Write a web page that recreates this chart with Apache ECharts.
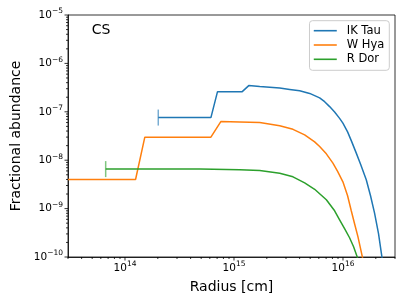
<!DOCTYPE html>
<html>
<head>
<meta charset="utf-8">
<script src="https://cdn.jsdelivr.net/npm/echarts@6/dist/echarts.min.js"></script>
<style>html,body{margin:0;padding:0;background:#fff}#c{width:407px;height:305px}</style>
</head>
<body>
<div id="c"></div>
<script>
// ---- data ----
const ikTauR = [2.02e14, 6.14e14, 7.06e14, 1.19e15, 1.366e15, 1.723e15, 2.127e15, 2.627e15, 3.243e15, 4.005e15, 4.945e15, 6.106e15, 6.785e15, 7.54e15, 8.378e15, 9.309e15, 9.98e15, 1.102e16, 1.199e16, 1.324e16, 1.45e16, 1.635e16, 1.789e16, 1.948e16, 2.118e16, 2.271e16, 2.455e16];
const ikTauX = [7.6e-8, 7.6e-8, 2.61e-7, 2.61e-7, 3.476e-7, 3.314e-7, 3.221e-7, 3.087e-7, 2.901e-7, 2.727e-7, 2.399e-7, 1.937e-7, 1.617e-7, 1.281e-7, 9.87e-8, 7.31e-8, 5.82e-8, 3.85e-8, 2.45e-8, 1.40e-8, 8.22e-9, 3.94e-9, 1.84e-9, 8.09e-10, 3.03e-10, 1.03e-10, 3.92e-11];
const wHyaR = [3.0e13, 1.25e14, 1.52e14, 6.14e14, 7.57e14, 1.13e15, 1.723e15, 2.627e15, 3.477e15, 4.45e15, 5.495e15, 6.106e15, 7.034e15, 8.083e15, 8.924e15, 9.98e15, 1.102e16, 1.191e16, 1.277e16, 1.369e16, 1.502e16, 1.611e16];
const wHyaX = [3.99e-9, 3.99e-9, 2.99e-8, 2.99e-8, 6.28e-8, 6.13e-8, 5.99e-8, 5.17e-8, 4.34e-8, 3.34e-8, 2.39e-8, 1.915e-8, 1.354e-8, 8.70e-9, 5.90e-9, 3.58e-9, 1.84e-9, 9.02e-10, 4.87e-10, 2.66e-10, 1.03e-10, 4.97e-11];
const rDorR = [6.65e13, 4.86e14, 1.13e15, 1.723e15, 2.627e15, 3.477e15, 4.45e15, 5.495e15, 7.034e15, 8.378e15, 9.309e15, 1.034e16, 1.149e16, 1.251e16, 1.346e16, 1.419e16];
const rDorX = [6.55e-9, 6.55e-9, 6.33e-9, 6.12e-9, 5.36e-9, 4.54e-9, 3.41e-9, 2.51e-9, 1.52e-9, 9.02e-10, 5.88e-10, 3.84e-10, 2.50e-10, 1.63e-10, 1.03e-10, 6.94e-11];
const seriesNames = ['IK Tau', 'W Hya', 'R Dor'];
const xMin = 3e13, xMax = 3e16, yMin = 1e-10, yMax = 1e-5;
const xMajor = [1e14, 1e15, 1e16];
const xMinor = [3e13, 4e13, 5e13, 6e13, 7e13, 8e13, 9e13, 2e14, 3e14, 4e14, 5e14, 6e14, 7e14, 8e14, 9e14, 2e15, 3e15, 4e15, 5e15, 6e15, 7e15, 8e15, 9e15, 2e16, 3e16];
const yMajor = [1e-10, 1e-9, 1e-8, 1e-7, 1e-6, 1e-5];
const yMinor = [2e-10, 3e-10, 4e-10, 5e-10, 6e-10, 7e-10, 8e-10, 9e-10,
  2e-9, 3e-9, 4e-9, 5e-9, 6e-9, 7e-9, 8e-9, 9e-9,
  2e-8, 3e-8, 4e-8, 5e-8, 6e-8, 7e-8, 8e-8, 9e-8,
  2e-7, 3e-7, 4e-7, 5e-7, 6e-7, 7e-7, 8e-7, 9e-7,
  2e-6, 3e-6, 4e-6, 5e-6, 6e-6, 7e-6, 8e-6, 9e-6];

const colors = ['#1f77b4', '#ff7f0e', '#2ca02c'];
const FONT = 'DejaVu Sans';

function lineData(r, x, capFirst) {
  return r.map((v, i) => {
    if (i === 0 && capFirst) {
      return { value: [v, x[i]], symbol: 'rect', symbolSize: [1.5, 16], itemStyle: { opacity: 0.6 } };
    }
    return [v, x[i]];
  });
}

function powLabel(v) {
  const e = Math.log10(v);
  const r = Math.round(e);
  if (Math.abs(e - r) > 1e-6) return '';
  return '{b|10}{s|' + (r < 0 ? '\u2212' : '') + Math.abs(r) + '}';
}
const rich = {
  b: { fontSize: 10.5, fontFamily: FONT, color: '#000', lineHeight: 14 },
  s: { fontSize: 7.5, fontFamily: FONT, color: '#000', lineHeight: 14, padding: [0, 0, 7, 0] }
};

const tickData = [];
xMajor.forEach(v => tickData.push([v, yMin, 3.5, 0]));
xMinor.forEach(v => tickData.push([v, yMin, 2, 0]));
const yTickData = [];
yMajor.forEach(v => yTickData.push([xMin, v, 3.5, 1]));
yMinor.forEach(v => yTickData.push([xMin, v, 2, 1]));

function renderTick(params, api) {
  const p = api.coord([api.value(0), api.value(1)]);
  const len = api.value(2);
  const vert = api.value(3) === 0;
  return {
    type: 'line',
    shape: vert ? { x1: p[0], y1: p[1], x2: p[0], y2: p[1] + len } : { x1: p[0], y1: p[1], x2: p[0] - len, y2: p[1] },
    style: { stroke: '#000', lineWidth: 0.8 }
  };
}

const chart = echarts.init(document.getElementById('c'), null, { renderer: 'canvas' });
chart.setOption({
  animation: false,
  backgroundColor: '#fff',
  textStyle: { fontFamily: FONT },
  grid: { left: 68, right: 12, top: 15, bottom: 48, show: true, borderColor: '#000', borderWidth: 0.8, backgroundColor: 'transparent' },
  xAxis: {
    type: 'log', logBase: 10, min: xMin, max: xMax,
    name: 'Radius [cm]', nameLocation: 'middle', nameGap: 21,
    nameTextStyle: { fontSize: 14, fontFamily: FONT, color: '#000' },
    axisLine: { show: true, lineStyle: { color: '#000', width: 0.8 } },
    axisTick: { show: false },
    splitLine: { show: false },
    axisLabel: { formatter: powLabel, rich: rich, margin: 4, showMinLabel: false, showMaxLabel: false, color: '#000' }
  },
  yAxis: {
    type: 'log', logBase: 10, min: yMin, max: yMax,
    name: 'Fractional abundance', nameLocation: 'middle', nameGap: 43,
    nameTextStyle: { fontSize: 14, fontFamily: FONT, color: '#000' },
    axisLine: { show: true, lineStyle: { color: '#000', width: 0.8 } },
    axisTick: { show: false },
    splitLine: { show: false },
    axisLabel: { formatter: powLabel, rich: rich, margin: 5, color: '#000' }
  },
  legend: {
    data: seriesNames,
    icon: 'rect',
    orient: 'vertical', right: 17.7, top: 20.7,
    itemWidth: 23, itemHeight: 1.6, itemGap: 2.3,
    padding: [4, 5, 5, 4.3],
    backgroundColor: 'rgba(255,255,255,0.8)', borderColor: '#cccccc', borderWidth: 1, borderRadius: 3,
    textStyle: { fontSize: 11.5, fontFamily: FONT, color: '#000', padding: [0, 0, 0, 5] }
  },
  graphic: [{ type: 'text', style: { x: 91.7, y: 30, text: 'CS', fontSize: 14, fontFamily: FONT, fill: '#000', verticalAlign: 'middle' } }],
  series: [
    { name: seriesNames[0], type: 'line', symbol: 'none', data: lineData(ikTauR, ikTauX, true), lineStyle: { width: 1.5, color: colors[0] }, itemStyle: { color: colors[0] }, z: 3 },
    { name: seriesNames[1], type: 'line', symbol: 'none', data: lineData(wHyaR, wHyaX, false), lineStyle: { width: 1.5, color: colors[1] }, itemStyle: { color: colors[1] }, z: 3 },
    { name: seriesNames[2], type: 'line', symbol: 'none', data: lineData(rDorR, rDorX, true), lineStyle: { width: 1.5, color: colors[2] }, itemStyle: { color: colors[2] }, z: 3 },
    { type: 'custom', renderItem: renderTick, data: tickData, silent: true, z: 5 },
    { type: 'custom', renderItem: renderTick, data: yTickData, silent: true, z: 5 }
  ]
});
</script>
</body>
</html>
